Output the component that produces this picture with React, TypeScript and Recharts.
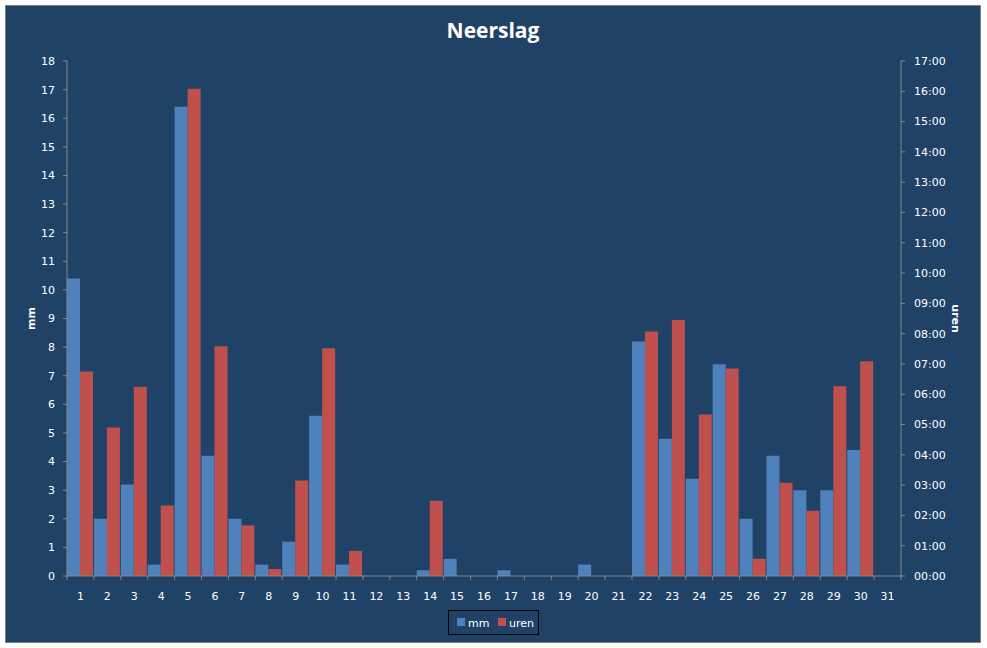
import React from "react";
import { Bar, BarChart, XAxis, YAxis } from "recharts";

const days = Array.from({ length: 31 }, (_, i) => String(i + 1));

// neerslag per dag in mm
const mmValues = [
  10.4, 2.0, 3.2, 0.4, 16.4, 4.2, 2.0, 0.4, 1.2, 5.6, 0.4, 0, 0, 0.2, 0.6, 0,
  0.2, 0, 0, 0.4, 0, 8.2, 4.8, 3.4, 7.4, 2.0, 4.2, 3.0, 3.0, 4.4, 0,
];

// duur van de neerslag in uren (decimaal)
const urenValues = [
  6.75, 4.9, 6.25, 2.33, 16.08, 7.58, 1.67, 0.23, 3.15, 7.52, 0.83, 0, 0, 2.48,
  0, 0, 0, 0, 0, 0, 0, 8.07, 8.45, 5.33, 6.85, 0.57, 3.08, 2.15, 6.26, 7.09, 0,
];

const mmTicks = Array.from({ length: 19 }, (_, i) => i);
const urenTicks = Array.from({ length: 18 }, (_, i) => i);

const chartData = days.map((day, i) => ({
  day,
  mm: mmValues[i],
  uren: urenValues[i],
}));

const BG = "#1F4266";
const AXIS = "#868686";
const BLUE = "#4F81BD";
const RED = "#C0504D";
const FONT = "DejaVu Sans";

const formatUren = (h: number) => `${String(h).padStart(2, "0")}:00`;

const DayTick = (props: any) => {
  const { x, y, payload } = props;
  const half = payload?.offset ?? 13.45;
  const isLast = payload.value === days[days.length - 1];
  return (
    <g>
      <line x1={x - half} x2={x - half} y1={y} y2={y + 4} stroke={AXIS} />
      {isLast && (
        <line x1={x + half} x2={x + half} y1={y} y2={y + 4} stroke={AXIS} />
      )}
      <text
        x={x}
        y={y + 24}
        textAnchor="middle"
        fill="#FFFFFF"
        fontSize={11}
        fontFamily={FONT}
      >
        {payload.value}
      </text>
    </g>
  );
};

const tickStyle = { fill: "#FFFFFF", fontSize: 11, fontFamily: FONT };

export default function App() {
  return (
    <div
      style={{
        position: "absolute",
        left: 0,
        top: 0,
        width: 987,
        height: 648,
        background: "#FFFFFF",
      }}
    >
      <div
        style={{
          position: "absolute",
          left: 5,
          top: 5,
          width: 974,
          height: 636,
          background: BG,
          border: "1px solid #7F7F7F",
        }}
      >
        <BarChart
          width={974}
          height={636}
          data={chartData}
          margin={{ top: 55, right: 0, bottom: 36, left: 0 }}
          barCategoryGap={0}
          barGap={0}
        >
          <XAxis
            dataKey="day"
            height={30}
            stroke={AXIS}
            tickLine={false}
            tickSize={0}
            tickMargin={0}
            interval={0}
            tick={<DayTick />}
          />
          <YAxis
            yAxisId="left"
            orientation="left"
            width={61}
            domain={[0, 18]}
            ticks={mmTicks}
            interval={0}
            stroke={AXIS}
            tickSize={4}
            tickMargin={8}
            tick={tickStyle}
            label={{
              value: "mm",
              angle: -90,
              position: "center",
              dx: -5,
              fill: "#FFFFFF",
              fontSize: 11,
              fontWeight: "bold",
              fontFamily: FONT,
            }}
          />
          <YAxis
            yAxisId="right"
            orientation="right"
            width={79}
            domain={[0, 17]}
            ticks={urenTicks}
            interval={0}
            stroke={AXIS}
            tickSize={4}
            tickMargin={9}
            tick={tickStyle}
            tickFormatter={formatUren}
            label={{
              value: "uren",
              angle: 90,
              position: "center",
              dx: 15,
              fill: "#FFFFFF",
              fontSize: 11,
              fontWeight: "bold",
              fontFamily: FONT,
            }}
          />
          <Bar
            yAxisId="left"
            dataKey="mm"
            fill={BLUE}
            isAnimationActive={false}
          />
          <Bar
            yAxisId="right"
            dataKey="uren"
            fill={RED}
            isAnimationActive={false}
          />
        </BarChart>
      </div>
      <svg
        width={987}
        height={648}
        style={{ position: "absolute", left: 0, top: 0, pointerEvents: "none" }}
      >
        <text
          x={493}
          y={38}
          textAnchor="middle"
          fill="#FFFFFF"
          fontSize={21}
          fontWeight="bold"
          fontFamily="Open Sans"
        >
          Neerslag
        </text>
        <rect
          x={448.5}
          y={610.5}
          width={90}
          height={24}
          fill="none"
          stroke="#000000"
        />
        <rect x={457} y={618} width={8} height={8} fill={BLUE} />
        <text x={468} y={627} fill="#FFFFFF" fontSize={11} fontFamily={FONT}>
          mm
        </text>
        <rect x={498} y={618} width={8} height={8} fill={RED} />
        <text x={509} y={627} fill="#FFFFFF" fontSize={11} fontFamily={FONT}>
          uren
        </text>
      </svg>
    </div>
  );
}
